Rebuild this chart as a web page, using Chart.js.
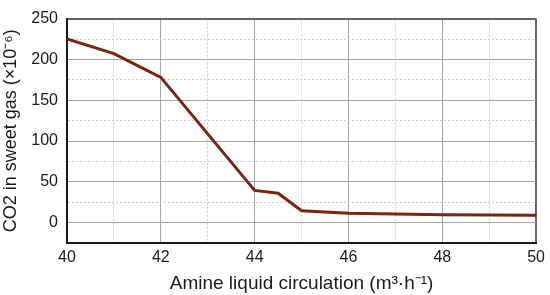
<!DOCTYPE html>
<html>
<head>
<meta charset="utf-8">
<script src="https://cdn.jsdelivr.net/npm/chart.js@4"></script>
<style>
  html, body { margin: 0; padding: 0; background: #fff; }
  canvas { display: block; }
</style>
</head>
<body>
<canvas id="c" width="550" height="295"></canvas>
<script>
// circulation (m3/h) vs CO2 in sweet gas (x10^-6)
var circulation = [40, 41, 42, 44, 44.5, 45, 46, 48, 50];
var co2 = [225, 207, 178, 39.5, 36, 14.5, 11.5, 9.5, 9];
var yTicks = [0, 50, 100, 150, 200, 250];
var xTicks = [40, 42, 44, 46, 48, 50];

var font = "'Liberation Sans', Arial, sans-serif";

function gridColor(major, isEdge) {
  if (isEdge) return "#666666";
  return major ? "#a6a6a6" : "#cfcfcf";
}

new Chart(document.getElementById("c"), {
  type: "line",
  data: {
    datasets: [{
      data: circulation.map(function (x, i) { return { x: x, y: co2[i] }; }),
      borderColor: "#7b2410",
      borderWidth: 3,
      pointRadius: 0,
      tension: 0,
      fill: false
    }]
  },
  options: {
    responsive: false,
    animation: false,
    layout: { padding: { top: 14, right: 12, left: 0, bottom: 0 } },
    plugins: { legend: { display: false }, tooltip: { enabled: false } },
    scales: {
      x: {
        type: "linear",
        min: 40,
        max: 50,
        afterFit: function (s) { s.height = 52; },
        ticks: {
          stepSize: 1,
          autoSkip: false,
          maxRotation: 0,
          padding: 5,
          color: "#1a1a1a",
          font: { family: font, size: 16 },
          callback: function (v) { return xTicks.indexOf(v) >= 0 ? v : ""; }
        },
        grid: {
          drawTicks: false,
          lineWidth: function (ctx) {
            var v = ctx.tick ? ctx.tick.value : 0;
            return v === 50 ? 2 : 1;
          },
          color: function (ctx) {
            var v = ctx.tick ? ctx.tick.value : 0;
            return gridColor(v % 2 === 0, v === 50);
          }
        },
        border: {
          display: true,
          color: "#1a1a1a",
          width: 2,
          dash: function (ctx) {
            var v = ctx.tick ? ctx.tick.value : 0;
            return v % 2 === 0 ? [] : [2, 2];
          }
        },
        title: {
          display: true,
          text: "Amine liquid circulation (m\u00b3\u00b7h\u207b\u00b9)",
          color: "#1a1a1a",
          font: { family: font, size: 19 },
          padding: { top: 0, bottom: 0 }
        }
      },
      y: {
        min: -25,
        max: 250,
        afterFit: function (s) { s.width = 67; },
        ticks: {
          stepSize: 25,
          autoSkip: false,
          padding: 9,
          color: "#1a1a1a",
          font: { family: font, size: 16 },
          callback: function (v) { return yTicks.indexOf(v) >= 0 ? v : ""; }
        },
        grid: {
          drawTicks: false,
          lineWidth: function (ctx) {
            var v = ctx.tick ? ctx.tick.value : 0;
            return v === 250 ? 2 : 1;
          },
          color: function (ctx) {
            var v = ctx.tick ? ctx.tick.value : 0;
            if (v === -25) return "rgba(0,0,0,0)";
            return gridColor(v % 50 === 0, v === 250);
          }
        },
        border: {
          display: true,
          color: "#1a1a1a",
          width: 2,
          dash: function (ctx) {
            var v = ctx.tick ? ctx.tick.value : 0;
            return v % 50 === 0 ? [] : [2, 2];
          }
        },
        title: {
          display: true,
          text: "CO2 in sweet gas (\u00d710\u207b\u2076)",
          color: "#1a1a1a",
          font: { family: font, size: 18 },
          padding: { top: 0, bottom: 4 }
        }
      }
    }
  }
});
</script>
</body>
</html>
